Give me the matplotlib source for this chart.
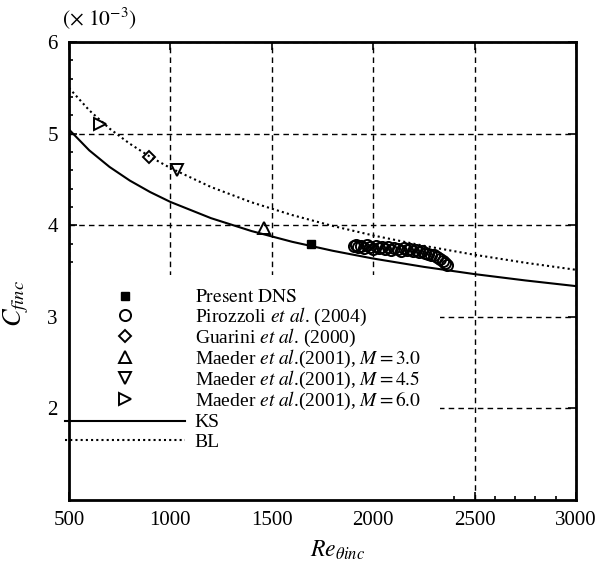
import matplotlib
matplotlib.use("Agg")
import matplotlib.pyplot as plt
from matplotlib.patches import Rectangle
from matplotlib.ticker import MultipleLocator
from matplotlib.legend_handler import HandlerLine2D

# ----------- DATA (Cf in units of 1e-3) -----------
re_curve = [500, 600, 700, 800, 900, 1000, 1200, 1400, 1600, 1800,
            2000, 2250, 2500, 2750, 3000]
cf_ks = [5.045, 4.817, 4.636, 4.487, 4.362, 4.254, 4.077, 3.936, 3.819, 3.721,
         3.636, 3.545, 3.466, 3.397, 3.335]
cf_bl = [5.498, 5.254, 5.055, 4.889, 4.747, 4.624, 4.417, 4.250, 4.111, 3.992,
         3.888, 3.775, 3.677, 3.590, 3.513]

re_dns, cf_dns = [1695], [3.80]
re_piro = [1905, 1915, 1925, 1940, 1955, 1970, 1985, 2000, 2015, 2030, 2045,
           2060, 2075, 2090, 2105, 2120, 2135, 2150, 2165, 2180, 2195, 2210,
           2225, 2240, 2255, 2270, 2285, 2300, 2315, 2330, 2345, 2355, 2365]
cf_piro = [3.77, 3.78, 3.76, 3.77, 3.75, 3.78, 3.76, 3.74, 3.77, 3.75, 3.76,
           3.74, 3.76, 3.73, 3.75, 3.74, 3.72, 3.75, 3.73, 3.74, 3.72, 3.73,
           3.71, 3.72, 3.70, 3.69, 3.68, 3.67, 3.65, 3.63, 3.61, 3.59, 3.57]
re_guar, cf_guar = [893], [4.75]
re_m30, cf_m30 = [1460], [3.97]
re_m45, cf_m45 = [1032], [4.60]
re_m60, cf_m60 = [652], [5.11]


class MarkerRight(HandlerLine2D):
    # legend marker sits right of the handle centre, like the original
    def get_xdata(self, legend, xdescent, ydescent, width, height, fontsize):
        xdata, _ = super().get_xdata(legend, xdescent, ydescent, width, height, fontsize)
        return xdata, [-xdescent + 0.63 * width]


# ----------- STYLE -----------
plt.rcParams["font.family"] = ["Liberation Serif", "DejaVu Serif"]
plt.rcParams["mathtext.fontset"] = "stix"

fig = plt.figure(figsize=(5.98, 5.63), dpi=100)
ax = fig.add_axes([69 / 598, 1 - 500 / 563, 507 / 598, 458 / 563])

mk = dict(linestyle="none", color="black", markerfacecolor="none",
          markeredgewidth=1.4, zorder=3)
h_dns, = ax.plot(re_dns, cf_dns, marker="s", markersize=6, markerfacecolor="black",
                 linestyle="none", color="black", zorder=3)
h_piro, = ax.plot(re_piro, cf_piro, marker="o", markersize=8, **mk)
h_guar, = ax.plot(re_guar, cf_guar, marker="D", markersize=6.5, **mk)
h_m30, = ax.plot(re_m30, cf_m30, marker="^", markersize=8, **mk)
h_m45, = ax.plot(re_m45, cf_m45, marker="v", markersize=8, **mk)
h_m60, = ax.plot(re_m60, cf_m60, marker=">", markersize=8, **mk)
h_ks, = ax.plot(re_curve, cf_ks, color="black", linewidth=1.5, zorder=2)
h_bl, = ax.plot(re_curve, cf_bl, color="black", linewidth=1.5, linestyle=(0, (1, 1.5)),
                zorder=2)

ax.set_xlim(500, 3000)
ax.set_ylim(1, 6)
ax.xaxis.set_major_locator(MultipleLocator(500))
ax.xaxis.set_minor_locator(MultipleLocator(100))
ax.yaxis.set_major_locator(MultipleLocator(1))
ax.yaxis.set_minor_locator(MultipleLocator(0.2))
ax.set_yticks([2, 3, 4, 5, 6])

ax.set_axisbelow(True)
ax.grid(True, which="major", color="black", linestyle=(0, (4, 3)), linewidth=1.0)
# white patch behind the legend hides the grid there
ax.add_patch(Rectangle((0, 0), 0.732, 0.491, transform=ax.transAxes,
                       facecolor="white", edgecolor="none", zorder=1))

ax.tick_params(which="both", direction="in", top=True, right=True,
               labelsize=15, width=1.2, pad=8)
ax.tick_params(which="major", length=6)
ax.tick_params(which="minor", length=3, top=False, right=False)
for s in ax.spines.values():
    s.set_linewidth(2)

ax.set_xlabel(r"$Re_{\theta inc}$", fontsize=17)
ax.set_ylabel(r"$C_{finc}$", fontsize=19)
ax.xaxis.set_label_coords(0.53, -0.085)
ax.yaxis.set_label_coords(-0.075, 0.43)
fig.text(62 / 598, 1 - 18 / 563, r"$(\times\ 10^{-3})$", fontsize=15.5, va="center")

# ----------- LEGENDS (markers, then the two curves) -----------
mark_handles = [h_dns, h_piro, h_guar, h_m30, h_m45, h_m60]
mark_labels = [r"$\mathrm{Present\ DNS}$",
               r"Pirozzoli $\mathit{et\ al}$. (2004)",
               r"Guarini $\mathit{et\ al}$. (2000)",
               r"Maeder $\mathit{et\ al}$.(2001), $M = 3.0$",
               r"Maeder $\mathit{et\ al}$.(2001), $M = 4.5$",
               r"Maeder $\mathit{et\ al}$.(2001), $M = 6.0$"]
hmap = {h: MarkerRight(numpoints=1) for h in mark_handles}
leg1 = ax.legend(mark_handles, mark_labels, loc="upper left",
                 bbox_to_anchor=(-0.024, 0.478), frameon=False, fontsize=14,
                 handlelength=6.2, handletextpad=0.5, labelspacing=-0.05,
                 borderaxespad=0, numpoints=1, handler_map=hmap)
leg1.set_zorder(4)
ax.add_artist(leg1)

leg2 = ax.legend([h_ks, h_bl], ["KS", "BL"], loc="upper left",
                 bbox_to_anchor=(-0.024, 0.205), frameon=False, fontsize=14,
                 handlelength=6.2, handletextpad=0.5, labelspacing=0.1,
                 borderaxespad=0)
leg2.set_zorder(4)

fig.savefig("out.png", dpi=100)
